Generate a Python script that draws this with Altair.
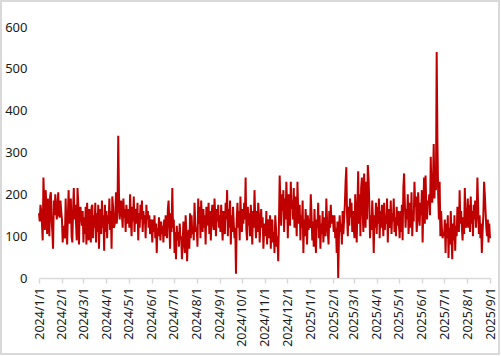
import altair as alt
import pandas as pd

# Daily values (2024/1/1 .. 2025/9/1)
v2024_01 = [155,135,175,160,130,90,240,180,115,210,170,105,190,150,100,195,205,140,110,70,185,150,200,165,140,175,205,150,145,185,160]
v2024_02 = [140,85,125,110,95,190,120,80,150,210,130,170,190,100,85,160,215,140,175,130,90,215,180,80,160,170,145,125,160]
v2024_03 = [85,145,105,170,80,180,120,90,165,130,85,170,175,95,150,120,180,85,155,110,175,70,140,165,105,185,120,150,65,175,110]
v2024_04 = [160,95,150,130,190,115,160,70,195,170,120,125,150,205,130,160,340,200,140,170,185,150,120,190,145,165,110,175,150,130]
v2024_05 = [165,120,200,145,100,170,135,195,110,165,150,130,180,90,155,120,175,140,185,110,160,130,150,95,175,140,160,120,150,105,140]
v2024_06 = [125,85,140,110,150,95,130,60,120,100,145,115,90,135,105,125,85,140,100,150,115,95,165,185,130,70,155,110,215,120]
v2024_07 = [140,60,110,45,125,90,110,75,130,95,100,45,80,135,95,60,150,110,40,100,115,70,155,95,150,105,120,90,180,130,110]
v2024_08 = [120,75,190,130,170,95,185,140,110,165,120,150,80,170,145,125,180,105,160,90,150,175,130,115,190,150,100,165,135,175,120]
v2024_09 = [150,110,175,125,90,160,135,105,180,140,210,100,165,120,185,80,150,110,170,130,95,120,10,140,180,120,160,90,195,135]
v2024_10 = [110,165,130,180,140,240,115,90,170,125,155,100,175,135,80,160,120,210,140,95,160,110,180,150,85,130,165,120,145,70,115]
v2024_11 = [130,100,160,80,140,115,95,150,70,125,140,85,110,60,150,120,75,100,40,130,245,180,125,200,160,210,110,190,140,230]
v2024_12 = [175,95,200,150,125,230,165,185,140,215,120,195,150,100,230,160,130,175,90,150,120,185,60,140,100,165,130,80,150,115,140]
v2025_01 = [120,200,150,90,135,75,165,110,60,140,120,180,95,150,70,130,105,160,85,125,145,100,190,135,110,80,160,120,175,130,150]
v2025_02 = [140,110,150,95,120,60,135,0,95,150,110,130,80,160,105,140,175,230,265,150,100,170,125,190,145,180,110,160]
v2025_03 = [120,95,200,150,85,170,255,130,200,100,215,240,160,110,250,190,120,230,140,270,240,180,95,150,115,185,140,60,150,120,180]
v2025_04 = [105,170,130,190,95,160,120,175,140,100,180,115,150,130,190,85,165,140,120,185,105,155,135,190,110,145,100,170,125,160]
v2025_05 = [130,95,160,110,175,90,215,250,180,120,165,140,200,105,150,180,120,205,100,160,135,230,170,195,110,140,205,165,125,180,150]
v2025_06 = [210,85,170,240,130,245,165,140,185,175,200,150,290,200,180,230,320,190,260,210,540,330,200,140,230,100,160,120,95,110]
v2025_07 = [100,140,60,130,95,150,48,120,80,160,100,45,130,90,150,65,125,100,170,140,110,210,130,160,120,90,145,105,215,140,120]
v2025_08 = [150,190,120,175,110,195,130,160,100,175,140,185,120,150,240,170,105,150,95,130,60,110,150,230,200,160,120,100,140,85,130]
v2025_09 = [95]

months = [v2024_01, v2024_02, v2024_03, v2024_04, v2024_05, v2024_06, v2024_07,
          v2024_08, v2024_09, v2024_10, v2024_11, v2024_12, v2025_01, v2025_02,
          v2025_03, v2025_04, v2025_05, v2025_06, v2025_07, v2025_08, v2025_09]
values = [v for m in months for v in m]

dates = pd.date_range("2024-01-01", periods=len(values), freq="D")
df = pd.DataFrame({"date": dates.strftime("%Y/%m/%d"), "value": values})

tick_months = pd.date_range("2024-01-01", "2025-09-01", freq="MS")
tick_values = [alt.DateTime(year=d.year, month=d.month, date=1) for d in tick_months]
y_ticks = [0, 100, 200, 300, 400, 500, 600]

FONT = "Noto Sans"

line = alt.Chart(df).mark_line(color="#C00000", strokeWidth=2).encode(
    x=alt.X(
        "date:T",
        scale=alt.Scale(
            domain=[alt.DateTime(year=2024, month=1, date=1), alt.DateTime(year=2025, month=9, date=1)],
            nice=False,
        ),
        axis=alt.Axis(
            values=tick_values,
            format="%Y/%-m/%-d",
            labelAngle=270,
            labelAlign="right",
            labelBaseline="middle",
            labelFont=FONT,
            labelFontSize=12.5,
            labelColor="#1a1a1a",
            labelPadding=4,
            labelOverlap=False,
            domainColor="#d9d9d9",
            domainWidth=1.5,
            tickColor="#d9d9d9",
            tickWidth=1.5,
            tickSize=5,
            grid=False,
            title=None,
        ),
    ),
    y=alt.Y(
        "value:Q",
        scale=alt.Scale(domain=[0, 600], nice=False),
        axis=alt.Axis(
            values=y_ticks,
            labelFont=FONT,
            labelFontSize=13,
            labelColor="#1a1a1a",
            labelPadding=12,
            ticks=False,
            domain=False,
            grid=False,
            title=None,
        ),
    ),
)

frame = alt.Chart(pd.DataFrame({"a": [0]})).mark_rect(
    filled=False, stroke="#d9d9d9", strokeWidth=2
).encode(
    x=alt.value(-38), x2=alt.value(460), y=alt.value(-26), y2=alt.value(327)
)

chart = alt.layer(line, frame).properties(
    width=451,
    height=251,
    autosize=alt.AutoSizeParams(type="none"),
    padding={"left": 39, "top": 27, "right": 11, "bottom": 78},
    background="white",
).configure_view(stroke=None)

chart.save("out.html", embed_options={"renderer": "svg", "actions": False})
